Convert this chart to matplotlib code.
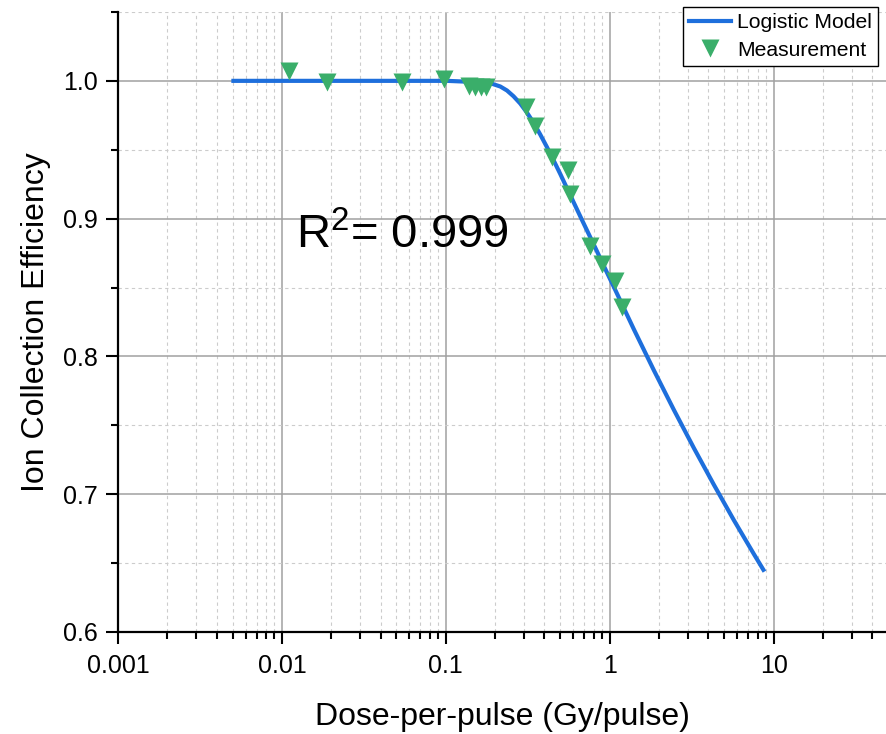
import matplotlib
matplotlib.use("Agg")
import matplotlib.pyplot as plt
from matplotlib.ticker import LogLocator, FixedLocator, NullFormatter

plt.rcParams["font.family"] = ["Liberation Sans", "DejaVu Sans"]
plt.rcParams["mathtext.default"] = "regular"

# Measurement points (dose per pulse in Gy, ion collection efficiency)
meas_dose = [0.0111, 0.0189, 0.0537, 0.097, 0.1377, 0.1498, 0.1639, 0.1766,
             0.31, 0.351, 0.445, 0.553, 0.569, 0.754, 0.896, 1.08, 1.186]
meas_eff = [1.007, 0.9993, 0.999, 1.001, 0.9962, 0.9955, 0.9958, 0.9958,
            0.981, 0.967, 0.945, 0.935, 0.918, 0.880, 0.867, 0.8546, 0.8358]

# Logistic model curve
model_dose = [0.00506, 0.1017, 0.162, 0.1868, 0.215, 0.2362, 0.259, 0.2847,
              0.3126, 0.3431, 0.3767, 0.4141, 0.4543, 0.4993, 0.5742, 0.677,
              0.8157, 0.948, 1.061, 1.405, 1.860, 2.463, 3.262, 4.319,
              5.719, 7.574, 8.665]
model_eff = [1.000, 1.000, 0.999, 0.9983, 0.9959, 0.9930, 0.9888, 0.9835,
             0.9770, 0.9696, 0.9611, 0.9519, 0.9424, 0.9324, 0.9171, 0.8991,
             0.8790, 0.8625, 0.8503, 0.8196, 0.7899, 0.7612, 0.7335, 0.7069,
             0.6812, 0.6566, 0.6451]

x_limits = (0.001, 48.5)
y_limits = (0.6, 1.05)
y_major = [0.6, 0.7, 0.8, 0.9, 1.0]
y_minor = [0.65, 0.75, 0.85, 0.95, 1.05]

fig = plt.figure(figsize=(8.86, 7.34), dpi=100)
ax = fig.add_axes([0.1332, 0.139, 0.8668, 0.8447])

ax.plot(model_dose, model_eff, color="#1e6fdc", lw=3.0, zorder=3,
        label="Logistic Model")
ax.plot(meas_dose, meas_eff, ls="none", marker="v", ms=13, color="#3aae6a",
        mec="none", zorder=4, label="Measurement")

ax.set_xscale("log")
ax.set_xlim(*x_limits)
ax.set_ylim(*y_limits)

ax.xaxis.set_major_locator(LogLocator(base=10, numticks=10))
ax.xaxis.set_minor_locator(LogLocator(base=10, subs=range(2, 10), numticks=20))
ax.xaxis.set_minor_formatter(NullFormatter())
ax.set_xticks([0.001, 0.01, 0.1, 1, 10])
ax.set_xticklabels(["0.001", "0.01", "0.1", "1", "10"])
ax.yaxis.set_major_locator(FixedLocator(y_major))
ax.yaxis.set_minor_locator(FixedLocator(y_minor))
ax.set_yticklabels([f"{v:.1f}" for v in y_major])

ax.grid(which="major", color="#a0a0a0", lw=1.1, ls="-", zorder=0)
ax.grid(which="minor", color="#cccccc", lw=0.8, ls=(0, (3, 3)), zorder=0)
ax.set_axisbelow(True)

for s in ["top", "right"]:
    ax.spines[s].set_visible(False)
for s in ["left", "bottom"]:
    ax.spines[s].set_linewidth(1.6)
    ax.spines[s].set_color("black")

ax.tick_params(which="major", direction="out", length=8.5, width=1.5,
               labelsize=18, pad=6)
ax.tick_params(axis="x", which="major", pad=7.5)
ax.tick_params(which="minor", direction="out", length=4.8, width=1.5)

ax.set_xlabel("Dose-per-pulse (Gy/pulse)", fontsize=23, labelpad=17)
ax.set_ylabel("Ion Collection Efficiency", fontsize=23, labelpad=9)

ax.text(0.01226, 0.8786, r"R$^{2}$= 0.999", fontsize=34, ha="left",
        va="baseline", zorder=5)

leg = ax.legend(loc="upper right", bbox_to_anchor=(878 / 886, 1 - 7 / 734),
                bbox_transform=fig.transFigure, fontsize=15.2, frameon=True,
                fancybox=False, shadow=False, borderpad=0.28, borderaxespad=0,
                handlelength=2.0, handletextpad=0.3, labelspacing=0.42)
leg.get_frame().set_edgecolor("black")
leg.get_frame().set_linewidth(1.0)
leg.get_frame().set_alpha(1)

fig.savefig("out.png", dpi=100)
